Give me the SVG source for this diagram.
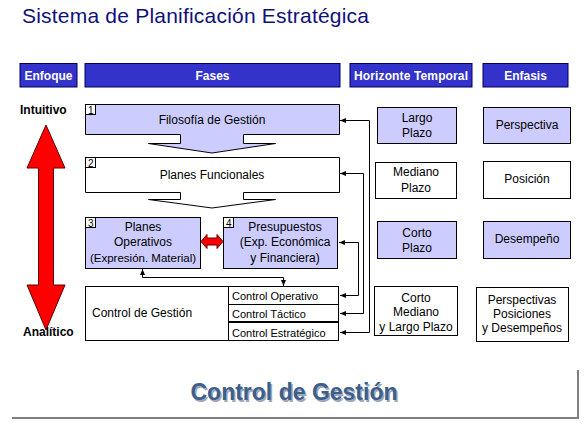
<svg xmlns="http://www.w3.org/2000/svg" width="586" height="426" viewBox="0 0 586 426">
<defs>
<style>
text{font-family:"Liberation Sans",Arial,sans-serif;font-size:12px;fill:#000}
.hdr rect{fill:#3333cc;stroke:#000060;stroke-width:1}
.hdr text{fill:#fff;font-weight:bold;text-anchor:middle}
.box{stroke:#000;stroke-width:1}
.lb{fill:#ccccff}
.wh{fill:#fff}
.num{fill:#fff;stroke:#000;stroke-width:1}
.nt{font-size:10px}
.c{text-anchor:middle}
.conn{fill:none;stroke:#000;stroke-width:1}
.red{fill:#ff0000;stroke:#600000;stroke-width:1}
</style>
<marker id="ah" viewBox="0 0 6 6" refX="6" refY="3" markerWidth="6" markerHeight="6" markerUnits="userSpaceOnUse" orient="auto-start-reverse">
<path d="M0,0.5 L6,3 L0,5.5 Z" fill="#000"/>
</marker>
</defs>
<rect width="586" height="426" fill="#fff"/>
<text x="22" y="23" textLength="347" style="font-size:21px;fill:#10107a">Sistema de Planificación Estratégica</text>

<g class="hdr" id="header">
<g id="h-enfoque"><rect x="20" y="63.5" width="57" height="23.5"/><text x="48.5" y="79.5">Enfoque</text></g>
<g id="h-fases"><rect x="85" y="63.5" width="255" height="23.5"/><text x="212.5" y="79.5">Fases</text></g>
<g id="h-horizonte"><rect x="350" y="63.5" width="122" height="23.5"/><text x="411" y="79.5" textLength="114">Horizonte Temporal</text></g>
<g id="h-enfasis"><rect x="483" y="63.5" width="85" height="23.5"/><text x="525.5" y="79.5">Enfasis</text></g>
</g>

<g id="enfoque">
<text x="20" y="114" style="font-weight:bold">Intuitivo</text>
<path class="red" d="M46,125 L65,168 L53.5,168 L53.5,285 L65,285 L46,330 L27,285 L38.5,285 L38.5,168 L27,168 Z"/>
<text x="23" y="336" style="font-weight:bold">Analítico</text>
</g>

<g id="fase1">
<path class="box lb" d="M85.5,104.5 H339.5 V134.5 H243.5 V143.5 H275.5 L212,153 L148.5,143.5 H180.5 V134.5 H85.5 Z"/>
<rect class="num" x="85.5" y="104.5" width="10" height="10"/>
<text class="nt" x="88" y="113.5">1</text>
<text class="c" x="212" y="124">Filosofía de Gestión</text>
</g>

<g id="fase2">
<path class="box wh" d="M85.5,157.5 H339.5 V192.5 H243.5 V199.5 H275.5 L212,208 L148.5,199.5 H180.5 V192.5 H85.5 Z"/>
<rect class="num" x="85.5" y="157.5" width="10" height="10"/>
<text class="nt" x="88" y="166.5">2</text>
<text class="c" x="212" y="179">Planes Funcionales</text>
</g>

<g id="fase3">
<rect class="box lb" x="85.5" y="217.5" width="115" height="51"/>
<rect class="num" x="85.5" y="217.5" width="10" height="10"/>
<text class="nt" x="88" y="226.5">3</text>
<text class="c" x="143" y="231">Planes</text>
<text class="c" x="143" y="246">Operativos</text>
<text class="c" x="143" y="262" style="font-size:11.5px">(Expresión. Material)</text>
</g>

<g id="fase4">
<rect class="box lb" x="223.5" y="217.5" width="114" height="51"/>
<rect class="num" x="223.5" y="217.5" width="10" height="10"/>
<text class="nt" x="226" y="226.5">4</text>
<text class="c" x="285" y="231">Presupuestos</text>
<text class="c" x="285" y="246">(Exp. Económica</text>
<text class="c" x="285" y="262">y Financiera)</text>
</g>

<g id="control">
<rect class="box wh" x="85.5" y="286.5" width="253" height="54"/>
<line class="conn" x1="228.5" y1="286.5" x2="228.5" y2="340.5"/>
<line class="conn" x1="228.5" y1="304.5" x2="338.5" y2="304.5"/>
<line x1="228.5" y1="322" x2="338.5" y2="322" stroke="#000" stroke-width="2"/>
<text x="92" y="317">Control de Gestión</text>
<text x="232" y="300" style="font-size:11px">Control Operativo</text>
<text x="232" y="318" style="font-size:11px">Control Táctico</text>
<text x="232" y="337" style="font-size:11px">Control Estratégico</text>
</g>

<g id="horizonte">
<g id="largo"><rect class="box lb" x="377.5" y="107.5" width="79" height="36"/><text class="c" x="417" y="122">Largo</text><text class="c" x="417" y="137">Plazo</text></g>
<g id="mediano"><rect class="box wh" x="375.5" y="162.5" width="81" height="36"/><text class="c" x="416" y="176">Mediano</text><text class="c" x="416" y="192">Plazo</text></g>
<g id="corto"><rect class="box lb" x="377.5" y="221.5" width="79" height="37"/><text class="c" x="417" y="237">Corto</text><text class="c" x="417" y="252">Plazo</text></g>
<g id="todos"><rect class="box wh" x="374.5" y="286.5" width="83" height="49"/><text class="c" x="416" y="302">Corto</text><text class="c" x="416" y="316">Mediano</text><text class="c" x="416" y="331">y Largo Plazo</text></g>
</g>

<g id="enfasis">
<g id="perspectiva"><rect class="box lb" x="483.5" y="107.5" width="87" height="36"/><text class="c" x="527" y="129">Perspectiva</text></g>
<g id="posicion"><rect class="box wh" x="483.5" y="161.5" width="87" height="37"/><text class="c" x="527" y="183">Posición</text></g>
<g id="desempeno"><rect class="box lb" x="483.5" y="221.5" width="87" height="37"/><text class="c" x="527" y="243">Desempeño</text></g>
<g id="todos-enf"><rect class="box wh" x="476.5" y="287.5" width="92" height="54"/><text class="c" x="522" y="304">Perspectivas</text><text class="c" x="522" y="318">Posiciones</text><text class="c" x="522" y="332">y Desempeños</text></g>
</g>

<g id="connectors">
<polyline class="conn" points="340,120.5 369.5,120.5 369.5,332.5 340,332.5" marker-start="url(#ah)" marker-end="url(#ah)"/>
<polyline class="conn" points="340,173.5 363.5,173.5 363.5,313.5 340,313.5" marker-start="url(#ah)" marker-end="url(#ah)"/>
<polyline class="conn" points="339,242.5 358.5,242.5 358.5,295.5 340,295.5" marker-start="url(#ah)" marker-end="url(#ah)"/>
<polyline class="conn" points="142.5,269 142.5,277.5 283.5,277.5 283.5,286" marker-start="url(#ah)" marker-end="url(#ah)"/>
<path class="red" d="M201,241.5 L207,234.5 L207,238 L217,238 L217,234.5 L223,241.5 L217,248.5 L217,245 L207,245 L207,248.5 Z"/>
</g>

<g id="footer">
<polyline points="12,418 578,418 578,370" fill="none" stroke="#808080" stroke-width="2"/>
<text class="c" x="295.5" y="401.5" style="font-size:23px;font-weight:bold;fill:#a0a8b8">Control de Gestión</text>
<text class="c" x="294" y="400" style="font-size:23px;font-weight:bold;fill:#3c5f8c">Control de Gestión</text>
</g>
</svg>
